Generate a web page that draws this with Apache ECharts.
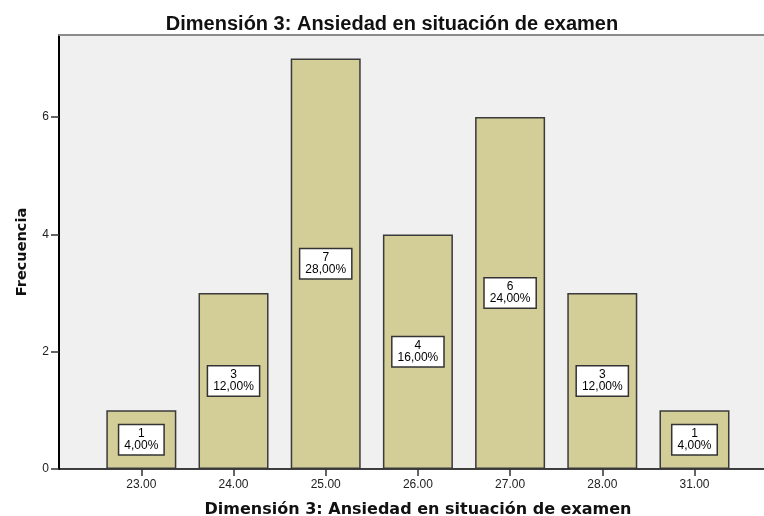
<!DOCTYPE html>
<html>
<head>
<meta charset="utf-8">
<script src="https://cdn.jsdelivr.net/npm/echarts@6/dist/echarts.min.js"></script>
<style>html,body{margin:0;padding:0;background:#fff;}#c{width:764px;height:516px;}</style>
</head>
<body>
<div id="c"></div>
<script>
const titleText = 'Dimensión 3: Ansiedad en situación de examen';
const xName = 'Dimensión 3: Ansiedad en situación de examen';
const yName = 'Frecuencia';
const categories = ['23.00','24.00','25.00','26.00','27.00','28.00','31.00'];
const counts = [1, 3, 7, 4, 6, 3, 1];
const percents = ['4,00%','12,00%','28,00%','16,00%','24,00%','12,00%','4,00%'];
const yTicks = [0, 2, 4, 6];

const idx = categories.map((c, i) => i);
const chart = echarts.init(document.getElementById('c'), null, {renderer: 'canvas'});
chart.setOption({
  animation: false,
  backgroundColor: '#ffffff',
  title: {
    text: titleText, left: 387, textAlign: 'center', top: 9,
    textStyle: {fontFamily: 'Liberation Sans', fontWeight: 'bold', fontSize: 20, color: '#111'}
  },
  grid: {left: 59, right: 0, top: 35, bottom: 47, show: true, backgroundColor: '#F0F0F0', borderWidth: 0,
    containLabel: false, outerBoundsMode: 'none'},
  xAxis: [{
    type: 'value', min: -0.893, max: 6.754,
    name: xName, nameLocation: 'middle', nameGap: 33,
    nameTextStyle: {fontFamily: 'DejaVu Sans', fontWeight: 'bold', fontSize: 16, color: '#111', padding: [0, 0, 0, 13]},
    axisLine: {show: true, onZero: false, lineStyle: {color: '#000', width: 1.5}},
    axisTick: {show: true, customValues: idx, length: 7, lineStyle: {color: '#333', width: 1.5}},
    axisLabel: {customValues: idx, formatter: v => categories[Math.round(v)], margin: 10,
      fontFamily: 'Liberation Sans', fontSize: 12, color: '#222'},
    splitLine: {show: false}
  }, {
    type: 'value', position: 'top', min: -0.893, max: 6.754,
    axisLine: {show: true, onZero: false, lineStyle: {color: '#8a8a8a', width: 2}},
    axisTick: {show: false}, axisLabel: {show: false}, splitLine: {show: false}
  }],
  yAxis: {
    type: 'value', min: 0, max: 7.4, interval: 2,
    name: yName, nameLocation: 'middle', nameGap: 29, nameRotate: 90,
    nameTextStyle: {fontFamily: 'DejaVu Sans', fontWeight: 'bold', fontSize: 14.5, color: '#111'},
    axisLine: {show: true, onZero: false, lineStyle: {color: '#000', width: 2}},
    axisTick: {show: true, customValues: yTicks, length: 8, lineStyle: {color: '#333', width: 1.5}},
    axisLabel: {customValues: yTicks, margin: 10, fontFamily: 'Liberation Sans', fontSize: 12, color: '#222'},
    splitLine: {show: false}
  },
  series: [{
    type: 'bar',
    xAxisIndex: 0,
    barWidth: 70,
    data: counts.map((v, i) => [i, v]),
    itemStyle: {color: '#D3CE98', borderColor: '#3a3a3a', borderWidth: 1.5},
    label: {
      show: true, position: 'inside',
      formatter: p => counts[p.data[0]] + '\n' + percents[p.data[0]],
      fontFamily: 'Liberation Sans', fontSize: 12, lineHeight: 12, color: '#000',
      backgroundColor: '#fff', borderColor: '#333', borderWidth: 1.5, padding: [3, 5, 2, 5], align: 'center'
    }
  }]
});
</script>
</body>
</html>
